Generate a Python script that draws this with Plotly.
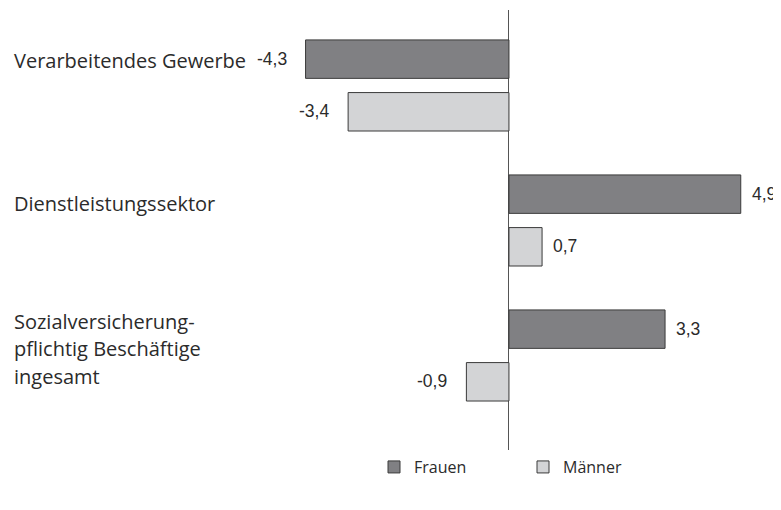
import plotly.graph_objects as go

categories = ["Verarbeitendes Gewerbe", "Dienstleistungssektor",
              "Sozialversicherung-<br>pflichtig Beschäftige<br>ingesamt"]
cat_keys = ["Verarbeitendes Gewerbe", "Dienstleistungssektor", "Sozialversicherungpflichtig Beschäftigte"]
frauen = [-4.3, 4.9, 3.3]
maenner = [-3.4, 0.7, -0.9]
series_names = ["Frauen", "Männer"]
colors = ["#808083", "#d3d4d6"]

W, H = 781, 486  # page body has 8px margin

fig = go.Figure()
for name, vals, col in zip(series_names, [frauen, maenner], colors):
    fig.add_trace(go.Bar(
        y=cat_keys, x=vals, orientation="h", name=name,
        marker=dict(color=col, line=dict(color="#3a3a3a", width=1)),
        hoverinfo="skip",
    ))

ann = []
# value labels
for ti, vals in enumerate([frauen, maenner]):
    for k, v in zip(cat_keys, vals):
        ann.append(dict(
            x=v, y=k, xref="x", yref="y", yshift=26 if ti == 0 else -26,
            text=f"{v:.1f}".replace(".", ","), showarrow=False,
            xanchor="left" if v >= 0 else "right",
            xshift=9 if v >= 0 else -17,
            font=dict(family="Liberation Sans, Arial", size=17.5, color="#2b2b2b"),
        ))
# category labels
label_shift = [24.5, 16.5, 6.5]
for k, lab, ys in zip(cat_keys, categories, label_shift):
    lines = lab.split("<br>")
    n = len(lines)
    for i, ln in enumerate(lines):
        ann.append(dict(
            x=4 / W, xref="paper", y=k, yref="y",
            yshift=ys - (i - (n - 1) / 2) * 27.5,
            text=ln, showarrow=False, xanchor="left", yanchor="middle",
            font=dict(family="Open Sans", size=20, color="#2b2b2b"),
        ))

fig.update_layout(
    width=W, height=H,
    margin=dict(l=0, r=0, t=2, b=42),
    plot_bgcolor="white", paper_bgcolor="white",
    barmode="group", bargap=0.22, bargroupgap=0.27,
    showlegend=True,
    legend=dict(orientation="h", x=366 / W, xanchor="left", y=-0.034, yanchor="middle",
                font=dict(family="Open Sans", size=16, color="#2b2b2b"),
                traceorder="normal", entrywidth=104, entrywidthmode="pixels"),
    annotations=ann,
    xaxis=dict(range=[-10.59, 5.92], showgrid=False, zeroline=True,
               zerolinecolor="#555555", zerolinewidth=1, showticklabels=False,
               fixedrange=True),
    yaxis=dict(type="category", categoryarray=cat_keys, range=[2.715, -0.559],
               showgrid=False, showticklabels=False, zeroline=False, fixedrange=True),
)

fig.write_html("out.html")
